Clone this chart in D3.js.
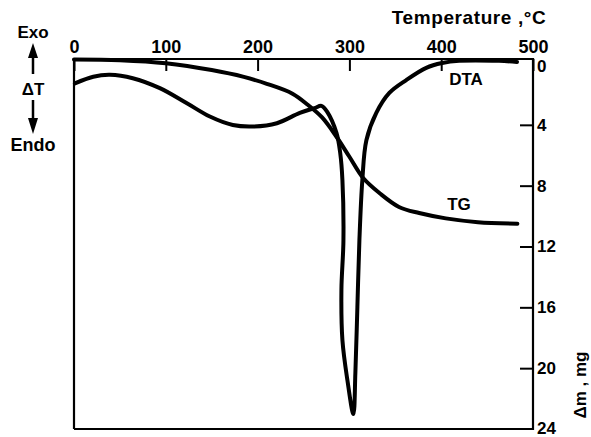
<!DOCTYPE html>
<html>
<head>
<meta charset="utf-8">
<script src="https://cdn.jsdelivr.net/npm/d3@7"></script>
<style>
  body { margin: 0; background: #fff; }
  svg text { font-family: "Liberation Sans", Arial, sans-serif; font-weight: bold; fill: #000; }
</style>
</head>
<body>
<svg width="591" height="437"></svg>
<script>
  // DATA
  const tempTicks = [0, 100, 200, 300, 400, 500];
  const massTicks = [0, 4, 8, 12, 16, 20, 24];

  // TG curve: temperature (°C) and mass loss (mg)
  const tgTemp = [0, 50, 100, 150, 185, 210, 238, 255, 270, 285, 300, 315, 333, 354, 376, 405, 440, 483];
  const tgMass = [-0.3, -0.25, -0.05, 0.4, 0.85, 1.3, 1.95, 2.7, 3.5, 4.7, 6.1, 7.5, 8.5, 9.4, 9.8, 10.15, 10.4, 10.5];

  // DTA curve: temperature (°C) and endothermic deflection (arbitrary units)
  const dtaTemp = [1, 21, 39, 64, 93.5, 123, 148, 173, 195, 221, 246, 262, 269.6, 276, 286, 290, 292.4, 293.5,
    291.3, 292.4, 297.8, 304.3, 306.5, 308.7, 310.9, 314.1, 318.5, 329.3, 343.5, 362, 383.7, 401, 419.6, 463, 482.6];
  const dtaDev = [6.6, 4.8, 4.3, 5.2, 7.9, 12.0, 15.6, 17.9, 18.3, 17.4, 14.6, 13.3, 12.7, 14.4, 20.1, 25.5, 32.8, 49.1,
    62.6, 76.2, 87.0, 96.2, 85.1, 67.2, 49.1, 32.8, 22.0, 14.6, 9.2, 5.7, 2.4, 1.1, 0.5, 0.5, 0.8];

  // SVG PARAMETERS
  const svg = d3.select("svg");
  const fLeft = 74, fRight = 533, fTop = 59, fBottom = 429;

  // SCALES
  const xScale = d3.scaleLinear().domain([0, 500]).range([fLeft, fRight]);
  const mScale = d3.scaleLinear().domain([0, 24]).range([64, fBottom]);
  const dScale = d3.scaleLinear().domain([0, 100]).range([fTop, fTop + 369]);

  // FRAME
  svg.append("path")
    .attr("d", `M${fLeft},${fBottom}V${fTop}H${fRight}V${fBottom}H${fLeft}`)
    .attr("fill", "none").attr("stroke", "#000").attr("stroke-width", 2.2);

  // TOP AXIS (temperature)
  const xAxis = d3.axisTop(xScale).tickValues(tempTicks).tickSize(-12).tickPadding(6).tickFormat(d3.format("d"));
  const xAxisG = svg.append("g").attr("transform", `translate(0,${fTop})`).call(xAxis);
  xAxisG.select(".domain").remove();
  xAxisG.selectAll(".tick line").attr("stroke", "#000").attr("stroke-width", 2);
  xAxisG.selectAll(".tick text").attr("font-size", 18).attr("font-family", null);
  svg.append("text").attr("x", 469).attr("y", 24).attr("text-anchor", "middle")
    .attr("font-size", 19).attr("letter-spacing", 0.6).text("Temperature ,°C");

  // RIGHT AXIS (mass loss)
  const yAxis = d3.axisRight(mScale).tickValues(massTicks.slice(1, -1)).tickSize(-13).tickPadding(4);
  const yAxisG = svg.append("g").attr("transform", `translate(${fRight},0)`).call(yAxis);
  yAxisG.select(".domain").remove();
  yAxisG.selectAll(".tick line").attr("stroke", "#000").attr("stroke-width", 2);
  yAxisG.selectAll(".tick text").attr("font-size", 17).attr("font-family", null);
  // end labels sit on the frame corners
  svg.append("text").attr("x", fRight + 4).attr("y", mScale(massTicks[0]) + 2).attr("dy", "0.35em")
    .attr("font-size", 17).text(massTicks[0]);
  svg.append("text").attr("x", fRight + 4).attr("y", mScale(massTicks[massTicks.length - 1]) - 1).attr("dy", "0.35em")
    .attr("font-size", 17).text(massTicks[massTicks.length - 1]);
  svg.append("text")
    .attr("transform", `translate(586,385) rotate(-90)`)
    .attr("text-anchor", "middle").attr("font-size", 17).text("Δm , mg");

  // LEFT LABELS
  svg.append("text").attr("x", 33).attr("y", 38).attr("text-anchor", "middle").attr("font-size", 17).text("Exo");
  svg.append("text").attr("x", 33).attr("y", 95).attr("text-anchor", "middle").attr("font-size", 17).text("ΔT");
  svg.append("text").attr("x", 33).attr("y", 151).attr("text-anchor", "middle").attr("font-size", 18).text("Endo");
  svg.append("path").attr("d", "M33,74V56").attr("stroke", "#000").attr("stroke-width", 2.5);
  svg.append("path").attr("d", "M33,43L28,58H38Z").attr("fill", "#000");
  svg.append("path").attr("d", "M33,100V120").attr("stroke", "#000").attr("stroke-width", 2.5);
  svg.append("path").attr("d", "M33,134L28,118H38Z").attr("fill", "#000");

  // CURVES
  const tgData = tgTemp.map((t, i) => [t, tgMass[i]]);
  const dtaData = dtaTemp.map((t, i) => [t, dtaDev[i]]);

  svg.append("path").datum(tgData)
    .attr("d", d3.line().x(d => xScale(d[0])).y(d => mScale(d[1])).curve(d3.curveCatmullRom.alpha(0.5)))
    .attr("fill", "none").attr("stroke", "#000").attr("stroke-width", 4).attr("stroke-linecap", "round");

  svg.append("path").datum(dtaData)
    .attr("d", d3.line().x(d => xScale(d[0])).y(d => dScale(d[1])).curve(d3.curveCatmullRom.alpha(0.5)))
    .attr("fill", "none").attr("stroke", "#000").attr("stroke-width", 4).attr("stroke-linecap", "round")
    .attr("stroke-linejoin", "round");

  // CURVE LABELS
  svg.append("text").attr("x", 466).attr("y", 85).attr("text-anchor", "middle").attr("font-size", 17).text("DTA");
  svg.append("text").attr("x", 459).attr("y", 210).attr("text-anchor", "middle").attr("font-size", 17).text("TG");
</script>
</body>
</html>
